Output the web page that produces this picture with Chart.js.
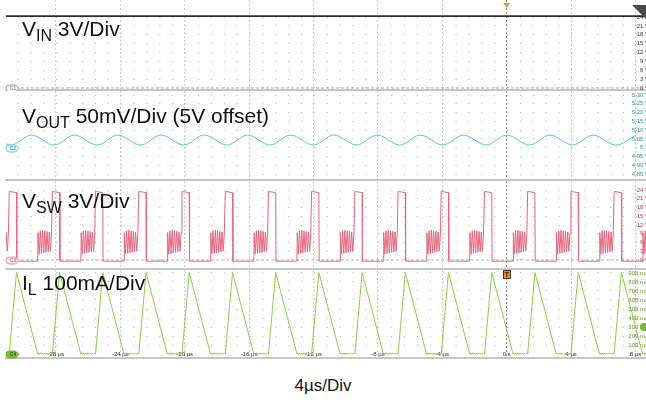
<!DOCTYPE html>
<html>
<head>
<meta charset="utf-8">
<title>Buck converter switching waveforms</title>
<script src="https://cdn.jsdelivr.net/npm/chart.js@4.4.1/dist/chart.umd.min.js"></script>
<style>
  html, body { margin: 0; padding: 0; background: #fff; }
  #scope { position: relative; width: 646px; height: 405px; overflow: hidden; font-family: 'Liberation Sans', Arial, sans-serif; }
  #scope canvas { position: absolute; left: 0; }
  .lbl { position: absolute; left: 22px; font-size: 21px; line-height: 20px; color: #111; white-space: nowrap; }
  .lbl sub { font-size: 16px; vertical-align: -5px; line-height: 0; }
  #tdiv { position: absolute; left: 0; width: 646px; top: 376px; text-align: center; font-size: 17px; line-height: 20px; color: #111; }
</style>
</head>
<body>
<div id="scope">
  <canvas id="c1" width="646" height="91" style="top:0"></canvas>
  <canvas id="c2" width="646" height="90" style="top:91px"></canvas>
  <canvas id="c3" width="646" height="89" style="top:181px"></canvas>
  <canvas id="c4" width="646" height="89" style="top:270px"></canvas>
  <div class="lbl" style="top:19px">V<sub>IN</sub> 3V/Div</div>
  <div class="lbl" style="top:106px">V<sub>OUT</sub> 50mV/Div (5V offset)</div>
  <div class="lbl" style="top:191px">V<sub>SW</sub> 3V/Div</div>
  <div class="lbl" style="top:273px">I<sub>L</sub> 100mA/Div</div>
  <div id="tdiv">4µs/Div</div>
</div>
<script>
// ---- time base (µs) ----
const T_MIN = -31.1, T_MAX = 8.65;
const timeTicks = [-28, -24, -20, -16, -12, -8, -4, 0, 4, 8];

// ---- per-channel tick labels ----
const vinTicks  = [0, 3, 6, 9, 12, 15, 18, 21, 24];
const voutTicks = [4.85, 4.9, 4.95, 5, 5.05, 5.1, 5.15, 5.2, 5.25, 5.3];
const vswTicks  = [0, 3, 6, 9, 12, 15, 18, 21, 24];
const ilTicks   = [100, 200, 300, 400, 500, 600, 700, 800, 900];

// ---- VIN (V) ----
const vinT = [-31.1, 8.65];
const vinV = [24.3, 24.3];

// ---- switching cycle edges (µs) ----
const swOnT   = [-33.58, -30.90, -28.22, -25.54, -22.85, -20.17, -17.48, -14.80, -12.12, -9.43, -6.75, -4.07, -1.38, 1.30, 3.99, 6.67];
const ilPeakT = [-33.13, -30.45, -27.77, -25.09, -22.40, -19.72, -17.03, -14.35, -11.67, -8.98, -6.30, -3.62, -0.93, 1.75, 4.44, 7.12];
const ilZeroT = [-31.81, -29.13, -26.45, -23.77, -21.08, -18.40, -15.71, -13.03, -10.35, -7.66, -4.98, -2.30, 0.39, 3.07, 5.76, 8.44];
const ilPeakMA = 905;

// ---- VSW levels (V) and DCM ringing after IL reaches zero ----
const swTopV = [23.5, 23.1];
const swLowV = -0.4;
const ringDt = [0.02, 0.09, 0.16, 0.23, 0.30, 0.37, 0.44, 0.51, 0.58, 0.65, 0.72, 0.79, 0.86];
const ringV  = [9.4, 2.0, 10.0, 2.2, 10.2, 2.4, 10.0, 2.6, 9.8, 2.8, 9.6, 3.0, 9.2];
const ringMA = [12, -6, 14, -6, 12, -6, 12, -4, 10, -4, 10, -2, 8];

// ---- VOUT ripple (V) ----
const voutLowT  = [-33.47, -30.79, -28.11, -25.43, -22.74, -20.06, -17.37, -14.69, -12.01, -9.32, -6.64, -3.96, -1.27, 1.41, 4.10, 6.78];
const voutHighT = [-32.20, -29.52, -26.84, -24.16, -21.47, -18.79, -16.10, -13.42, -10.74, -8.05, -5.37, -2.69, 0.00, 2.68, 5.37, 8.05];
const voutLowV = 5.015, voutHighV = 5.072;

const trigLevelMA = 300;

// ---- build point tables ----
function ringTail(i, vals, pts) {
  ringDt.forEach((dt, j) => pts.push({ x: ilZeroT[i] + dt, y: vals[j] }));
}

function buildSw() {
  const pts = [];
  ilPeakT.forEach((tp, i) => {
    if (i > 0) ringTail(i - 1, ringV, pts);
    pts.push({ x: swOnT[i], y: swTopV[0] });
    pts.push({ x: tp, y: swTopV[1] });
    pts.push({ x: tp + 0.02, y: swLowV });
    pts.push({ x: ilZeroT[i], y: swLowV });
  });
  ringTail(ilZeroT.length - 1, ringV, pts);
  return pts;
}

function buildIl() {
  const pts = [];
  ilPeakT.forEach((tp, i) => {
    if (i > 0) ringTail(i - 1, ringMA, pts);
    pts.push({ x: swOnT[i], y: 0 });
    pts.push({ x: tp, y: ilPeakMA });
    pts.push({ x: ilZeroT[i], y: 0 });
  });
  ringTail(ilZeroT.length - 1, ringMA, pts);
  return pts;
}

function buildVout() {
  const pts = [];
  voutLowT.forEach((t, i) => {
    pts.push({ x: t, y: voutLowV });
    pts.push({ x: voutHighT[i], y: voutHighV });
  });
  return pts;
}

const pairs = (xs, ys) => xs.map((x, i) => ({ x: x, y: ys[i] }));
const refLine = v => [{ x: T_MIN, y: v }, { x: T_MAX, y: v }];

// ---- small markers: channel tags, trigger marks ----
const scopeMarks = {
  id: 'scopeMarks',
  afterDraw(chart, args, o) {
    const ctx = chart.ctx, xs = chart.scales.x, ys = chart.scales.y, a = chart.chartArea;
    ctx.save();
    if (o.flag) {
      ctx.fillStyle = '#4a4a4a';
      ctx.beginPath();
      ctx.moveTo(a.right - 14, 5); ctx.lineTo(a.right, 5); ctx.lineTo(a.right, 19);
      ctx.closePath(); ctx.fill();
    }
    if (o.trig) {
      const x0 = xs.getPixelForValue(0);
      ctx.fillStyle = '#f39323';
      ctx.beginPath();
      ctx.moveTo(x0 - 3.5, 3); ctx.lineTo(x0 + 3.5, 3); ctx.lineTo(x0, 8);
      ctx.closePath(); ctx.fill();
    }
    if (o.tbox) {
      const x0 = Math.round(xs.getPixelForValue(0));
      ctx.fillStyle = '#ee8a2c'; ctx.strokeStyle = '#5a3510'; ctx.lineWidth = 1;
      ctx.fillRect(x0 - 4, a.top, 8, 9);
      ctx.strokeRect(x0 - 3.5, a.top + 0.5, 7, 8);
      ctx.fillStyle = '#222'; ctx.font = 'bold 7px "Liberation Sans", Arial';
      ctx.textAlign = 'center'; ctx.textBaseline = 'middle';
      ctx.fillText('T', x0, a.top + 5);
    }
    if (o.level !== undefined) {
      ctx.fillStyle = '#78b934';
      ctx.beginPath();
      ctx.arc(a.right - 2, ys.getPixelForValue(o.level), 4, 0, Math.PI * 2);
      ctx.fill();
    }
    if (o.tag) {
      const y = Math.round(ys.getPixelForValue(o.tag.level)) + 0.5;
      ctx.beginPath();
      ctx.moveTo(9.5, y - 3.5); ctx.lineTo(15.5, y - 3.5); ctx.lineTo(19, y);
      ctx.lineTo(15.5, y + 3.5); ctx.lineTo(9.5, y + 3.5);
      ctx.arc(9.5, y, 3.5, Math.PI / 2, Math.PI * 1.5);
      ctx.closePath();
      ctx.fillStyle = o.tag.fill; ctx.fill();
      ctx.strokeStyle = o.tag.stroke; ctx.lineWidth = 1; ctx.stroke();
      ctx.fillStyle = o.tag.ink; ctx.font = '5px "Liberation Sans", Arial';
      ctx.textAlign = 'center'; ctx.textBaseline = 'middle';
      ctx.fillText(o.tag.text, 13, y + 0.5);
    }
    ctx.restore();
  }
};

function noPad(s) {
  s.paddingTop = 0; s.paddingBottom = 0; s.paddingLeft = 0; s.paddingRight = 0;
}

function makePanel(id, cfg) {
  return new Chart(document.getElementById(id), {
    type: 'line',
    data: { datasets: cfg.datasets },
    plugins: [scopeMarks],
    options: {
      responsive: false,
      animation: false,
      events: [],
      layout: { padding: { left: 6, right: 0, top: 0, bottom: 0 } },
      elements: { point: { radius: 0 }, line: { borderWidth: 1 } },
      plugins: {
        legend: { display: false },
        tooltip: { enabled: false },
        scopeMarks: cfg.marks
      },
      scales: {
        x: {
          type: 'linear', min: T_MIN, max: T_MAX,
          afterBuildTicks: s => { s.ticks = timeTicks.map(v => ({ value: v })); },
          afterFit: s => { s.height = 1; noPad(s); },
          grid: {
            drawTicks: false,
            color: c => c.tick && c.tick.value === 0 ? '#8c8c8c' : '#cfcfcf',
            lineWidth: 1
          },
          border: { display: true, color: '#c6c6c6', width: 2, dash: [2, 2] },
          ticks: {
            display: !!cfg.timeLabels, mirror: true, padding: 0, autoSkip: false, maxRotation: 0,
            color: '#333', font: { size: 6, family: '"Liberation Sans", Arial' },
            callback: v => v === 0 ? '0 s' : v + ' µs'
          }
        },
        y: {
          type: 'linear', position: 'right', min: cfg.min, max: cfg.max,
          afterBuildTicks: s => { s.ticks = cfg.ticks.map(v => ({ value: v })); },
          afterFit: s => { s.width = 0; noPad(s); },
          grid: { drawTicks: false, color: '#b4b4b4', lineWidth: 1 },
          border: { display: false, dash: [1, 11.88], dashOffset: 1.2 },
          ticks: {
            mirror: true, padding: 3, autoSkip: false,
            color: cfg.tickColor, font: { size: 6, family: '"Liberation Sans", Arial' },
            callback: cfg.fmt
          }
        }
      }
    }
  });
}

makePanel('c1', {
  min: -0.68, max: 29.75, ticks: vinTicks, tickColor: '#333',
  fmt: v => v + ' V',
  datasets: [
    { data: pairs(vinT, vinV), borderColor: '#2e2e2e', borderWidth: 1.6, order: 1 },
    { data: refLine(0), borderColor: '#a8a8a8', borderDash: [3, 2], order: 2 }
  ],
  marks: { flag: true, trig: true, tag: { text: 'C1', level: 0, fill: '#f2f2f2', stroke: '#a0a0a0', ink: '#777' } }
});

makePanel('c2', {
  min: 4.816, max: 5.3228, ticks: voutTicks, tickColor: '#2b9aa8',
  fmt: v => v === 5 ? '5 V' : v.toFixed(2) + ' V',
  datasets: [
    { data: buildVout(), borderColor: '#52c6d8', cubicInterpolationMode: 'monotone' }
  ],
  marks: { tag: { text: 'C2', level: 5, fill: '#dff6fa', stroke: '#6fd0de', ink: '#2b8f9c' } }
});

makePanel('c3', {
  min: -3.09, max: 27.09, ticks: vswTicks, tickColor: '#b23a58',
  fmt: v => v + ' V',
  datasets: [
    { data: buildSw(), borderColor: '#e8657f', order: 1 },
    { data: refLine(0), borderColor: '#b8b8b8', borderDash: [3, 2], order: 2 }
  ],
  marks: { tag: { text: 'C3', level: 0, fill: '#fde6ec', stroke: '#ef8aa0', ink: '#c24a66' } }
});

makePanel('c4', {
  min: -44, max: 933, ticks: ilTicks, tickColor: '#5e9a1e', timeLabels: true,
  fmt: v => v + ' mA',
  datasets: [
    { data: buildIl(), borderColor: '#8ccf43' }
  ],
  marks: { tbox: true, level: trigLevelMA, tag: { text: 'C4', level: 0, fill: '#7fc23a', stroke: '#6aab2a', ink: '#1e3a08' } }
});
</script>
</body>
</html>
